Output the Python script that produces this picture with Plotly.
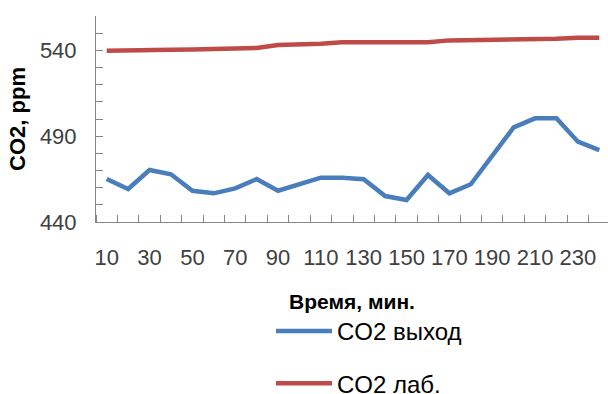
import plotly.graph_objects as go

time_min = [10, 20, 30, 40, 50, 60, 70, 80, 90, 100, 110, 120,
            130, 140, 150, 160, 170, 180, 190, 200, 210, 220, 230, 240]
co2_out = [465.0, 459.2, 470.3, 467.8, 458.2, 456.7, 459.6, 465.0, 458.2, 462.0, 465.8, 465.8,
           464.9, 455.1, 452.8, 467.4, 456.7, 462.0, 478.4, 495.1, 500.4, 500.4, 486.8, 481.9]
co2_lab = [539.8, 539.8, 539.8, 540.4, 540.5, 540.7, 541.1, 541.4, 543.1, 543.2, 543.9, 544.7,
           544.7, 544.7, 544.7, 544.7, 545.8, 545.9, 546.1, 546.6, 546.8, 546.8, 547.3, 547.3]
x_tick_labels = [10, 30, 50, 70, 90, 110, 130, 150, 170, 190, 210, 230]
y_tick_labels = [440, 490, 540]

AXIS = "#868686"
TICKFONT = dict(family="Liberation Sans Narrow, Arial Narrow, Liberation Sans, sans-serif", size=22, color="#404040")

fig = go.Figure()
fig.add_trace(go.Scatter(x=time_min, y=co2_out, mode="lines", name="CO2 выход",
                         legendgroup="a", line=dict(color="#4A7EBB", width=4.5)))
fig.add_trace(go.Scatter(x=time_min, y=co2_lab, mode="lines", name="CO2 лаб.",
                         legendgroup="b", line=dict(color="#BE4B48", width=4.5)))

fig.update_layout(
    width=608, height=394,
    margin=dict(l=96, r=0, t=16, b=172, autoexpand=False),
    paper_bgcolor="white", plot_bgcolor="white",
    font=dict(family="Liberation Sans, Arial, sans-serif", color="#000000"),
    showlegend=True,
    legend=dict(x=(271 - 96) / 512, y=(222 - 309) / 206, xanchor="left", yanchor="top",
                orientation="v", traceorder="grouped", tracegroupgap=18,
                itemwidth=56, font=dict(size=24, color="#000000"),
                bgcolor="rgba(0,0,0,0)"),
    xaxis=dict(range=[5, 244.06], tickmode="array", tickvals=x_tick_labels, automargin=False,
               ticks="", tickangle=0, tickfont=TICKFONT, ticklabelstandoff=16,
               showline=True, linecolor=AXIS, linewidth=1, showgrid=False, zeroline=False,
               minor=dict(tick0=5, dtick=10, ticks="inside", ticklen=7, tickcolor=AXIS, showgrid=False),
               title=dict(text="Время, мин.", standoff=24,
                          font=dict(size=21, family="Liberation Sans, Arial, sans-serif", weight="bold"))),
    yaxis=dict(range=[440, 560], tickmode="array", tickvals=y_tick_labels, automargin=False,
               ticks="inside", ticklen=7, tickcolor=AXIS, tickfont=TICKFONT, ticklabelstandoff=14,
               showline=True, linecolor=AXIS, linewidth=1, showgrid=False, zeroline=False,
               minor=dict(tick0=440, dtick=10, ticks="inside", ticklen=7, tickcolor=AXIS, showgrid=False),
               title=dict(text="CO2, ppm", standoff=8,
                          font=dict(size=22, family="Liberation Sans, Arial, sans-serif", weight="bold"))),
)

fig.write_html("out.html", config={"displayModeBar": False},
               post_script="document.body.style.margin='0';document.body.style.overflow='hidden';")
